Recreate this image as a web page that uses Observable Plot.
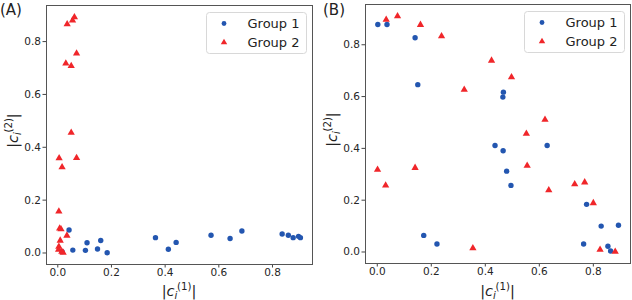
<!DOCTYPE html>
<html>
<head>
<meta charset="utf-8">
<script src="https://cdn.jsdelivr.net/npm/d3@7"></script>
<script src="https://cdn.jsdelivr.net/npm/@observablehq/plot@0.6"></script>
<style>
  body { margin: 0; background: #fff; }
  #fig { position: relative; width: 632px; height: 300px; overflow: hidden; background: #fff; }
  #fig > svg { position: absolute; top: 0; }
</style>
</head>
<body>
<div id="fig"></div>
<script>
// Shared tick values and labels
const tickValues = [0, 0.2, 0.4, 0.6, 0.8];
const groupNames = ["Group 1", "Group 2"];
const panelLabels = ["(A)", "(B)"];

// Panel A: |c_i^(1)| vs |c_i^(2)|
const aGroup1X = [0.042, 0.016, 0.056, 0.103, 0.109, 0.148, 0.160, 0.184, 0.364, 0.412, 0.441, 0.571, 0.642, 0.686, 0.836, 0.859, 0.877, 0.897, 0.904];
const aGroup1Y = [0.087, 0.005, 0.011, 0.010, 0.039, 0.015, 0.047, 0.001, 0.058, 0.014, 0.040, 0.067, 0.055, 0.083, 0.072, 0.067, 0.058, 0.063, 0.058];
const aGroup2X = [0.035, 0.055, 0.062, 0.070, 0.030, 0.050, 0.050, 0.005, 0.070, 0.016, 0.004, 0.007, 0.012, 0.034, 0.009, 0.004, 0.003, 0.020, 0.015];
const aGroup2Y = [0.866, 0.880, 0.892, 0.755, 0.717, 0.708, 0.455, 0.359, 0.360, 0.325, 0.157, 0.093, 0.090, 0.066, 0.047, 0.024, 0.013, 0.001, 0.005];

// Panel B
const bGroup1X = [0.002, 0.036, 0.140, 0.150, 0.467, 0.465, 0.436, 0.629, 0.466, 0.479, 0.495, 0.775, 0.829, 0.893, 0.764, 0.854, 0.864, 0.172, 0.221];
const bGroup1Y = [0.878, 0.878, 0.827, 0.646, 0.617, 0.598, 0.411, 0.411, 0.391, 0.312, 0.257, 0.184, 0.100, 0.103, 0.031, 0.022, 0.004, 0.064, 0.031];
const bGroup2X = [0.033, 0.075, 0.160, 0.238, 0.322, 0.423, 0.497, 0.621, 0.552, 0.555, 0.635, 0.731, 0.768, 0.800, 0.825, 0.881, 0.354, 0.001, 0.031, 0.140];
const bGroup2Y = [0.897, 0.910, 0.877, 0.833, 0.627, 0.739, 0.675, 0.511, 0.457, 0.333, 0.239, 0.262, 0.269, 0.189, 0.009, 0.001, 0.015, 0.318, 0.257, 0.325];

const blue = "#2356b0";
const red = "#f0262a";
const font = "'DejaVu Sans', sans-serif";

// Data extent with a 5% margin on both sides
function padded(values) {
  const [lo, hi] = d3.extent(values);
  const m = (hi - lo) * 0.05;
  return [lo - m, hi + m];
}

// |c_i^(n)| written with italic c, subscript i and superscript (n)
function mathLabel(g, sup) {
  const t = g.append("text")
    .attr("font-family", font)
    .attr("font-size", 14.5)
    .attr("fill", "#222");
  t.append("tspan").text("|");
  t.append("tspan").attr("font-style", "italic").text("c");
  t.append("tspan").attr("font-style", "italic").attr("font-size", 10.2).attr("dy", 3.2).text("i");
  t.append("tspan").attr("font-size", 10.2).attr("dx", -0.5).attr("dy", -9.2).text("(" + sup + ")");
  t.append("tspan").attr("dy", 6).text("|");
  return t;
}

function drawPanel(cfg) {
  const g1 = cfg.g1x.map((x, i) => ({x, y: cfg.g1y[i], group: groupNames[0]}));
  const g2 = cfg.g2x.map((x, i) => ({x, y: cfg.g2y[i], group: groupNames[1]}));
  const all = g1.concat(g2);
  const W = 316, H = 300;
  const m = cfg.margins;

  const plot = Plot.plot({
    width: W,
    height: H,
    marginTop: m.top,
    marginRight: m.right,
    marginBottom: m.bottom,
    marginLeft: m.left,
    style: {fontFamily: font, fontSize: "10.5px", color: "#262626", background: "transparent", overflow: "visible"},
    x: {domain: padded(all.map(d => d.x))},
    y: {domain: padded(all.map(d => d.y))},
    marks: [
      Plot.axisX({ticks: tickValues, tickFormat: d3.format(".1f"), tickSize: 3.5, tickPadding: 1, label: null, stroke: "#444"}),
      Plot.axisY({ticks: tickValues, tickFormat: d3.format(".1f"), tickSize: 3.5, tickPadding: 2, label: null, stroke: "#444"}),
      Plot.frame({stroke: "#555", strokeWidth: 1}),
      Plot.dot(g1, {x: "x", y: "y", r: 2.7, fill: blue}),
      Plot.dot(g2, {x: "x", y: "y", r: 2.7, symbol: "triangle", fill: red})
    ]
  });
  plot.style.left = cfg.left + "px";
  document.getElementById("fig").append(plot);

  const svg = d3.select(plot);
  const fx0 = m.left, fx1 = W - m.right, fy0 = m.top, fy1 = H - m.bottom;

  // Panel letter
  svg.append("text")
    .attr("x", cfg.letterX).attr("y", 14.7)
    .attr("text-anchor", "start")
    .attr("font-family", font).attr("font-size", 15).attr("fill", "#222")
    .text(cfg.letter);

  // Axis titles
  mathLabel(svg, 1)
    .attr("x", (fx0 + fx1) / 2).attr("y", 295.5)
    .attr("text-anchor", "middle");
  mathLabel(svg, 2)
    .attr("text-anchor", "middle")
    .attr("transform", `translate(${cfg.ylabelX},${(fy0 + fy1) / 2 - 4}) rotate(-90)`);

  // Legend
  const bw = 100, bh = 41;
  const bx = fx1 - 6 - bw, by = fy0 + 7;
  const lg = svg.append("g").attr("transform", `translate(${bx},${by})`);
  lg.append("rect")
    .attr("x", 0.5).attr("y", 0.5).attr("width", bw).attr("height", bh)
    .attr("rx", 3).attr("fill", "#fff").attr("fill-opacity", 0.8)
    .attr("stroke", "#d8d8d8").attr("stroke-width", 1);
  const entries = [
    {name: groupNames[0], color: blue, symbol: d3.symbolCircle},
    {name: groupNames[1], color: red, symbol: d3.symbolTriangle}
  ];
  entries.forEach((e, i) => {
    const cy = 11.5 + i * 19;
    lg.append("path")
      .attr("transform", `translate(18,${cy})`)
      .attr("d", d3.symbol(e.symbol, Math.PI * 2.4 * 2.4)())
      .attr("fill", e.color);
    lg.append("text")
      .attr("x", 41.5).attr("y", cy).attr("dy", "0.36em")
      .attr("text-anchor", "start")
      .attr("font-family", font).attr("font-size", 13).attr("fill", "#222")
      .text(e.name);
  });
}

drawPanel({
  g1x: aGroup1X, g1y: aGroup1Y, g2x: aGroup2X, g2y: aGroup2Y,
  left: 0, letter: panelLabels[0], letterX: 0, ylabelX: 17.5,
  margins: {top: 5, right: 4, bottom: 36, left: 46}
});
drawPanel({
  g1x: bGroup1X, g1y: bGroup1Y, g2x: bGroup2X, g2y: bGroup2Y,
  left: 316, letter: panelLabels[1], letterX: 7, ylabelX: 20.5,
  margins: {top: 4, right: 2, bottom: 37, left: 49}
});
</script>
</body>
</html>
